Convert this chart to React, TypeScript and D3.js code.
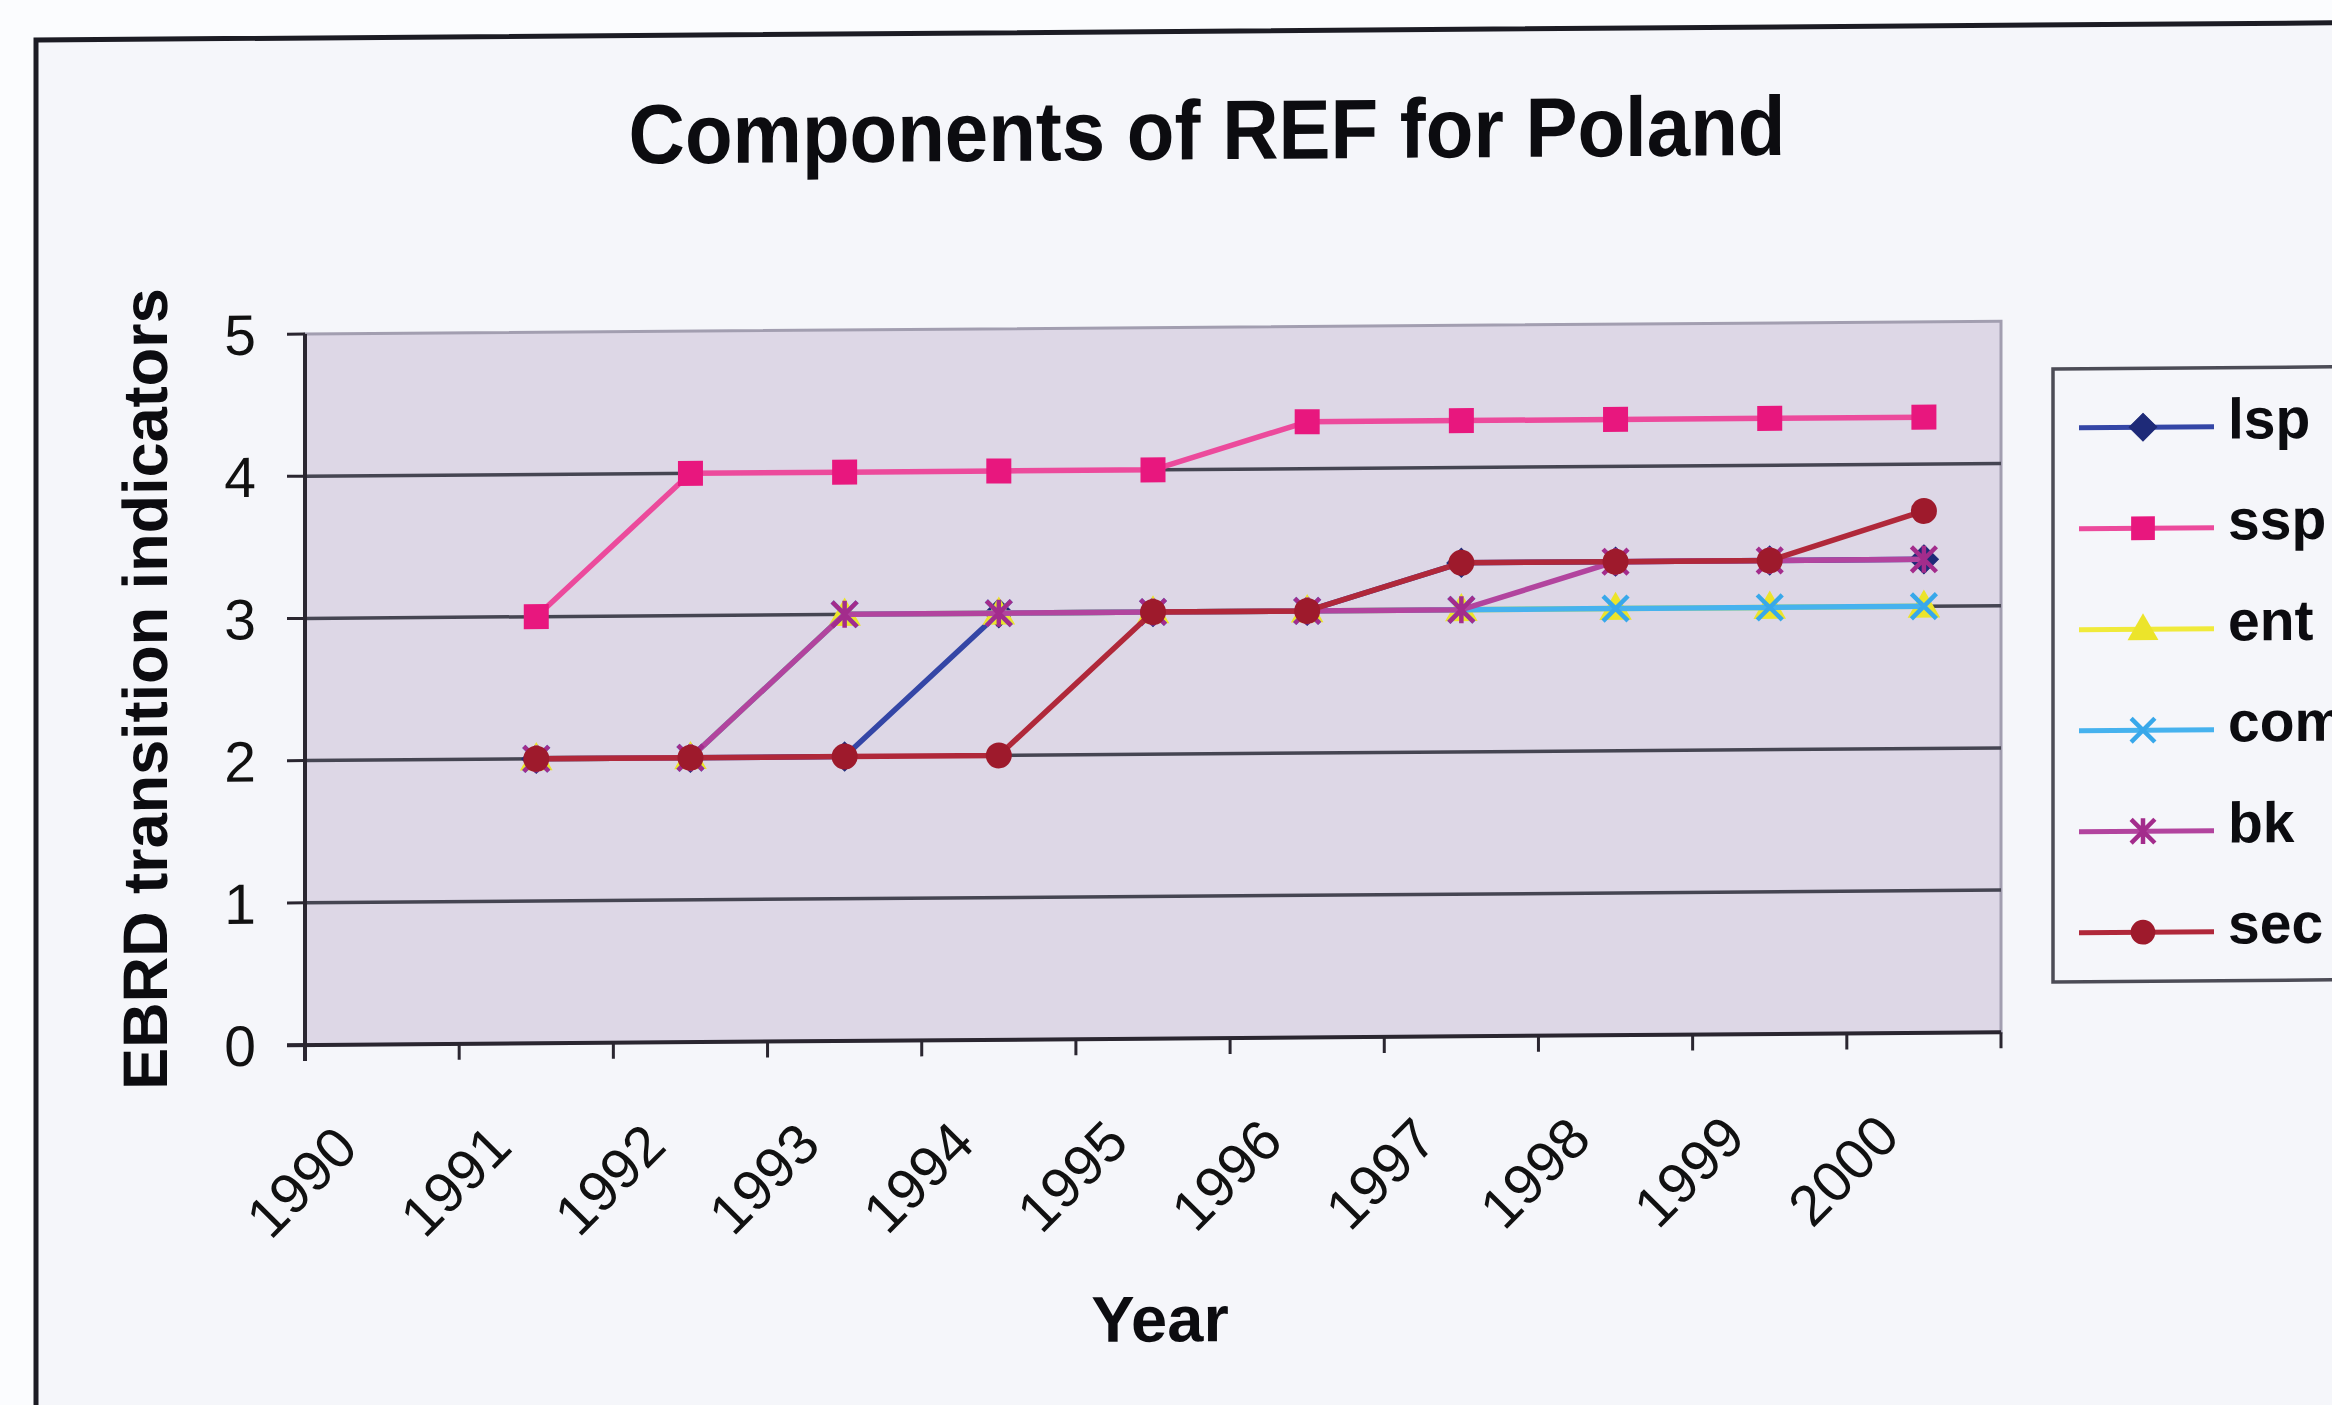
import React from 'react';
import * as d3 from 'd3';

// Categories and values (EBRD transition indicators, Poland)
const years = ['1990', '1991', '1992', '1993', '1994', '1995', '1996', '1997', '1998', '1999', '2000'];
const yTicks = [0, 1, 2, 3, 4, 5];

const lsp = [null, 2, 2, 2, 3, 3, 3, 3.33, 3.33, 3.33, 3.33];
const ssp = [null, 3, 4, 4, 4, 4, 4.33, 4.33, 4.33, 4.33, 4.33];
const ent = [null, 2, 2, 3, 3, 3, 3, 3, 3, 3, 3];
const com = [null, 2, 2, 3, 3, 3, 3, 3, 3, 3, 3];
const bk = [null, 2, 2, 3, 3, 3, 3, 3, 3.33, 3.33, 3.33];
const sec = [null, 2, 2, 2, 2, 3, 3, 3.33, 3.33, 3.33, 3.67];

const seriesNames = ['lsp', 'ssp', 'ent', 'com', 'bk', 'sec'];
const seriesValues = [lsp, ssp, ent, com, bk, sec];
const lineColors = ['#3446a6', '#ec4a9c', '#f0ea3a', '#46b2ee', '#b2449e', '#b0283a'];
const markerColors = ['#1e2a78', '#e8177e', '#ece42a', '#38a8ea', '#a32c8c', '#9e1a2c'];
const markerKinds = ['diamond', 'square', 'triangle', 'x', 'star', 'circle'];

const W = 2332;
const H = 1405;
const plot = { left: 305, right: 2001, top: 334, bottom: 1045 };
const tilt = -0.0075;

function Marker({ kind, x, y, color, s = 1 }: { kind: string; x: number; y: number; color: string; s?: number }) {
  const r = 12.5 * s;
  if (kind === 'diamond') {
    const p = `M${x},${y - r - 2}L${x + r + 2},${y}L${x},${y + r + 2}L${x - r - 2},${y}Z`;
    return <path d={p} fill={color} stroke={color} strokeWidth={1} />;
  }
  if (kind === 'square') {
    return <rect x={x - r} y={y - r} width={2 * r} height={2 * r} fill={color} />;
  }
  if (kind === 'triangle') {
    const p = d3.symbol().type(d3.symbolTriangle).size(460 * s * s)();
    return <path d={p || ''} transform={`translate(${x},${y + 2})`} fill={color} />;
  }
  if (kind === 'circle') {
    return <circle cx={x} cy={y} r={r + 0.5} fill={color} />;
  }
  if (kind === 'x') {
    const a = r;
    return (
      <path
        d={`M${x - a},${y - a}L${x + a},${y + a}M${x - a},${y + a}L${x + a},${y - a}`}
        stroke={color}
        strokeWidth={4.5}
        fill="none"
      />
    );
  }
  // star: an x with a vertical bar
  const a = r;
  return (
    <path
      d={`M${x - a},${y - a}L${x + a},${y + a}M${x - a},${y + a}L${x + a},${y - a}M${x},${y - r - 1}L${x},${y + r + 1}`}
      stroke={color}
      strokeWidth={4.5}
      fill="none"
    />
  );
}

export default function App() {
  const x = d3.scaleBand<string>().domain(years).range([plot.left, plot.right]).paddingInner(0).paddingOuter(0);
  const y = d3.scaleLinear().domain([0, 5]).range([plot.bottom, plot.top]);
  const cx = (i: number) => (x(years[i]) as number) + x.bandwidth() / 2;

  const line = d3
    .line<number | null>()
    .defined((d) => d !== null)
    .x((_, i) => cx(i))
    .y((d) => y(d as number));

  const boundaries = years.map((yr) => x(yr) as number).concat([plot.right]);
  const font = 'Arial, "Liberation Sans", Helvetica, sans-serif';

  const legendX = 2053;
  const legendTop = 382;
  const legendRowY = (i: number) => 441 + i * 101;

  return (
    <svg
      width={W}
      height={H}
      viewBox={`0 0 ${W} ${H}`}
      style={{ position: 'absolute', left: 0, top: 0, background: '#fbfcfe' }}
      fontFamily={font}
    >
      <rect x={0} y={0} width={W} height={H} fill="#fbfcfe" />
      <g transform={`matrix(1, ${tilt}, 0, 1, 0, ${-plot.left * tilt})`}>
        {/* chart frame */}
        <rect x={36} y={38} width={W + 40} height={H + 40} fill="#f5f6fa" stroke="#1c1c24" strokeWidth={5} />

        {/* title */}
        <text
          transform="translate(1207,166) scale(1,1.08)"
          textAnchor="middle"
          fontSize={78}
          fontWeight="bold"
          fill="#0c0c10"
        >
          Components of REF for Poland
        </text>

        {/* plot area */}
        <rect
          x={plot.left}
          y={plot.top}
          width={plot.right - plot.left}
          height={plot.bottom - plot.top}
          fill="#ddd7e6"
          stroke="#a29eb0"
          strokeWidth={3}
        />

        {/* horizontal gridlines */}
        {yTicks.slice(1, 5).map((t) => (
          <line key={t} x1={plot.left} x2={plot.right} y1={y(t)} y2={y(t)} stroke="#454552" strokeWidth={3.5} />
        ))}

        {/* axes */}
        <line x1={plot.left} x2={plot.left} y1={plot.top} y2={plot.bottom + 16} stroke="#2a2630" strokeWidth={4} />
        <line x1={plot.left - 18} x2={plot.right} y1={plot.bottom} y2={plot.bottom} stroke="#2a2630" strokeWidth={4} />
        {yTicks.map((t) => (
          <line key={t} x1={plot.left - 18} x2={plot.left} y1={y(t)} y2={y(t)} stroke="#2a2630" strokeWidth={3} />
        ))}
        {boundaries.map((b, i) => (
          <line key={i} x1={b} x2={b} y1={plot.bottom} y2={plot.bottom + 16} stroke="#2a2630" strokeWidth={3} />
        ))}

        {/* y tick labels */}
        {yTicks.map((t) => (
          <text key={t} x={256} y={y(t)} dy="0.36em" textAnchor="end" fontSize={57} fill="#111">
            {t}
          </text>
        ))}

        {/* x tick labels */}
        {years.map((yr, i) => (
          <text
            key={yr}
            transform={`translate(${cx(i) - 22},${1151}) rotate(-45)`}
            textAnchor="end"
            fontSize={57}
            fill="#111"
          >
            {yr}
          </text>
        ))}

        {/* axis titles */}
        <text transform={`translate(167,688) rotate(-90)`} textAnchor="middle" fontSize={63} fontWeight="bold" fill="#0c0c10">
          EBRD transition indicators
        </text>
        <text x={1160} y={1348} textAnchor="middle" fontSize={65} fontWeight="bold" fill="#0c0c10">
          Year
        </text>

        {/* series */}
        {seriesValues.map((vals, si) => (
          <g key={seriesNames[si]}>
            <path d={line(vals) || ''} fill="none" stroke={lineColors[si]} strokeWidth={5.5} strokeLinejoin="round" />
            {vals.map((v, i) =>
              v === null ? null : (
                <Marker key={i} kind={markerKinds[si]} x={cx(i)} y={y(v)} color={markerColors[si]} />
              )
            )}
          </g>
        ))}

        {/* legend */}
        <rect x={legendX} y={legendTop} width={400} height={613} fill="#f5f6fa" stroke="#4c4c56" strokeWidth={3.5} />
        {seriesNames.map((name, i) => {
          const ly = legendRowY(i);
          return (
            <g key={name}>
              <line x1={2079} x2={2214} y1={ly} y2={ly} stroke={lineColors[i]} strokeWidth={5} />
              <Marker kind={markerKinds[i]} x={2143} y={ly} color={markerColors[i]} s={0.95} />
              <text x={2228} y={ly + 12} fontSize={57} fontWeight="bold" fill="#0c0c10">
                {name}
              </text>
            </g>
          );
        })}
      </g>
    </svg>
  );
}
